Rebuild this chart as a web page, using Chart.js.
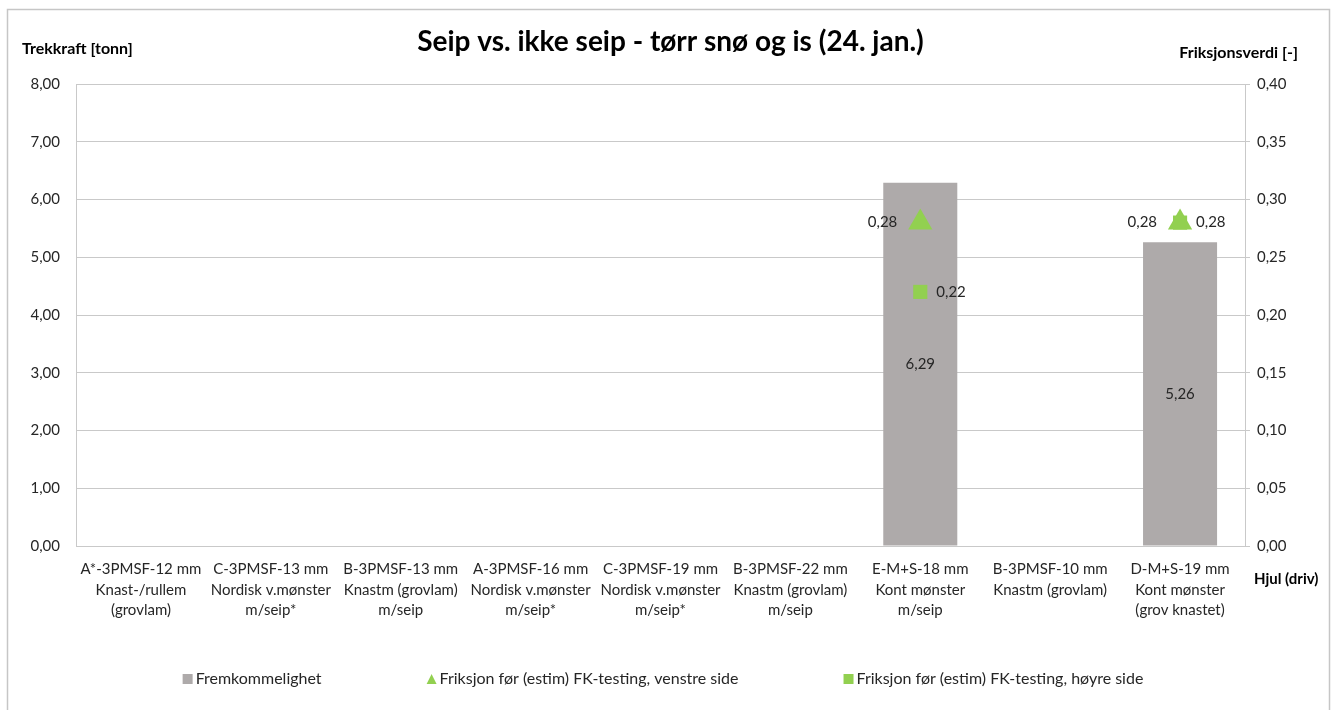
<!DOCTYPE html>
<html>
<head>
<meta charset="utf-8">
<script src="https://cdn.jsdelivr.net/npm/chart.js@4.4.1/dist/chart.umd.min.js"></script>
<style>
  html, body { margin: 0; padding: 0; background: #fff; }
</style>
</head>
<body>
<canvas id="seipChart" width="1341" height="710"></canvas>
<script>
// hjul (driv) - kategorier
var categories = [
    ["A*-3PMSF-12 mm", "Knast-/rullem", "(grovlam)"],
    ["C-3PMSF-13 mm", "Nordisk v.mønster", "m/seip*"],
    ["B-3PMSF-13 mm", "Knastm (grovlam)", "m/seip"],
    ["A-3PMSF-16 mm", "Nordisk v.mønster", "m/seip*"],
    ["C-3PMSF-19 mm", "Nordisk v.mønster", "m/seip*"],
    ["B-3PMSF-22 mm", "Knastm (grovlam)", "m/seip"],
    ["E-M+S-18 mm", "Kont mønster", "m/seip"],
    ["B-3PMSF-10 mm", "Knastm (grovlam)"],
    ["D-M+S-19 mm", "Kont mønster", "(grov knastet)"]
];

// trekkraft [tonn]
var fremkommelighet = [null, null, null, null, null, null, 6.29, null, 5.26];
// friksjonsverdi [-]
var friksjonVenstre = [null, null, null, null, null, null, 0.28, null, 0.28];
var friksjonHoyre = [null, null, null, null, null, null, 0.22, null, 0.28];

var seriesNames = [
    "Fremkommelighet",
    "Friksjon før (estim) FK-testing, venstre side",
    "Friksjon før (estim) FK-testing, høyre side"
];

var FONT = "Lato";
var GRID = "#C9C9C9";
var TEXT = "#262626";

function komma(v) {
    return Number(v).toFixed(2).replace(".", ",");
}

// labels, axis titles, legend, chart border
var extras = {
    id: "extras",
    beforeDraw: function(chart) {
        var ctx = chart.ctx;
        ctx.save();
        ctx.strokeStyle = "#C6C6C6";
        ctx.lineWidth = 1.5;
        ctx.strokeRect(7.5, 9.5, 1322, 800);
        ctx.restore();
    },
    afterDatasetsDraw: function(chart) {
        var ctx = chart.ctx;
        ctx.save();
        ctx.font = "15px " + FONT;
        ctx.fillStyle = TEXT;
        ctx.textBaseline = "middle";
        chart.data.datasets.forEach(function(ds, i) {
            var meta = chart.getDatasetMeta(i);
            meta.data.forEach(function(el, j) {
                var v = ds.data[j];
                if (v === null || v === undefined) return;
                var txt = komma(v);
                if (ds.type === "bar") {
                    ctx.textAlign = "center";
                    ctx.fillText(txt, el.x, (el.y + el.base) / 2);
                } else if (ds.pointStyle === "triangle") {
                    ctx.textAlign = "right";
                    ctx.fillText(txt, el.x - 23, el.y);
                } else {
                    ctx.textAlign = "left";
                    ctx.fillText(txt, el.x + 16, el.y);
                }
            });
        });
        ctx.restore();
    },
    afterDraw: function(chart) {
        var ctx = chart.ctx;
        var area = chart.chartArea;
        ctx.save();
        ctx.fillStyle = "#000";
        ctx.textBaseline = "middle";
        ctx.font = "bold 16px " + FONT;
        ctx.textAlign = "left";
        ctx.fillText("Trekkraft [tonn]", 22, 49);
        ctx.textAlign = "right";
        ctx.fillText("Friksjonsverdi [-]", 1298, 53);
        ctx.font = "bold 15px " + FONT;
        ctx.textAlign = "left";
        ctx.fillText("Hjul (driv)", 1254, area.bottom + 33);

        // legend
        ctx.font = "16px " + FONT;
        ctx.textAlign = "left";
        var box = 10, gap = 3, spread = 105;
        var items = chart.data.datasets.map(function(ds) {
            return { text: ds.label, style: ds.pointStyle || "rect", color: ds.backgroundColor,
                     w: box + gap + ctx.measureText(ds.label).width };
        });
        var total = items.reduce(function(s, it) { return s + it.w; }, 0) + spread * (items.length - 1);
        var x = 663 - total / 2;
        var y = area.bottom + 133;
        items.forEach(function(it) {
            ctx.fillStyle = it.color;
            if (it.style === "triangle") {
                ctx.beginPath();
                ctx.moveTo(x + box / 2, y - 5);
                ctx.lineTo(x + box, y + 5);
                ctx.lineTo(x, y + 5);
                ctx.closePath();
                ctx.fill();
            } else {
                ctx.fillRect(x, y - 5, box, box);
            }
            ctx.fillStyle = TEXT;
            ctx.fillText(it.text, x + box + gap, y);
            x += it.w + spread;
        });
        ctx.restore();
    }
};

var ctx = document.getElementById("seipChart").getContext("2d");

var seipChart = new Chart(ctx, {
    data: {
        labels: categories,
        datasets: [
            {
                type: "bar",
                label: seriesNames[0],
                data: fremkommelighet,
                yAxisID: "y",
                backgroundColor: "#AEAAAA",
                borderWidth: 0,
                barPercentage: 0.57,
                categoryPercentage: 1,
                order: 3
            },
            {
                type: "line",
                label: seriesNames[1],
                data: friksjonVenstre,
                yAxisID: "y1",
                showLine: false,
                pointStyle: "triangle",
                pointRadius: 14,
                pointHoverRadius: 14,
                backgroundColor: "#92D050",
                borderColor: "#92D050",
                pointBorderWidth: 0,
                order: 1
            },
            {
                type: "line",
                label: seriesNames[2],
                data: friksjonHoyre,
                yAxisID: "y1",
                showLine: false,
                pointStyle: "rect",
                pointRadius: 10,
                pointHoverRadius: 10,
                backgroundColor: "#92D050",
                borderColor: "#92D050",
                pointBorderWidth: 0,
                order: 2
            }
        ]
    },
    options: {
        responsive: false,
        animation: false,
        layout: { padding: { left: 0, right: 0, top: 0, bottom: 84 } },
        plugins: {
            legend: { display: false },
            tooltip: { enabled: false },
            title: {
                display: true,
                text: "Seip vs. ikke seip - tørr snø og is (24. jan.)",
                color: "#000",
                font: { family: FONT, size: 28, weight: "bold" },
                padding: { top: 25, bottom: 25.4 }
            }
        },
        scales: {
            x: {
                grid: { display: true, drawOnChartArea: false, drawTicks: false, color: GRID },
                border: { display: true, color: GRID, width: 1 },
                ticks: {
                    color: TEXT,
                    font: { family: FONT, size: 15, lineHeight: 1.37 },
                    maxRotation: 0,
                    autoSkip: false,
                    padding: 13
                },
                afterFit: function(s) { s.height = 80; }
            },
            y: {
                position: "left",
                min: 0,
                max: 8,
                ticks: {
                    stepSize: 1,
                    color: TEXT,
                    font: { family: FONT, size: 15 },
                    padding: 16,
                    callback: function(v) { return komma(v); }
                },
                grid: { color: GRID, drawTicks: false },
                border: { display: true, color: GRID },
                afterFit: function(s) { s.width = 76; }
            },
            y1: {
                position: "right",
                min: 0,
                max: 0.4,
                ticks: {
                    stepSize: 0.05,
                    color: TEXT,
                    font: { family: FONT, size: 15 },
                    padding: 7,
                    callback: function(v) { return komma(v); }
                },
                grid: { color: GRID, drawOnChartArea: false, tickLength: 5 },
                border: { display: true, color: GRID },
                afterFit: function(s) { s.width = 96; }
            }
        }
    },
    plugins: [extras]
});
</script>
</body>
</html>
